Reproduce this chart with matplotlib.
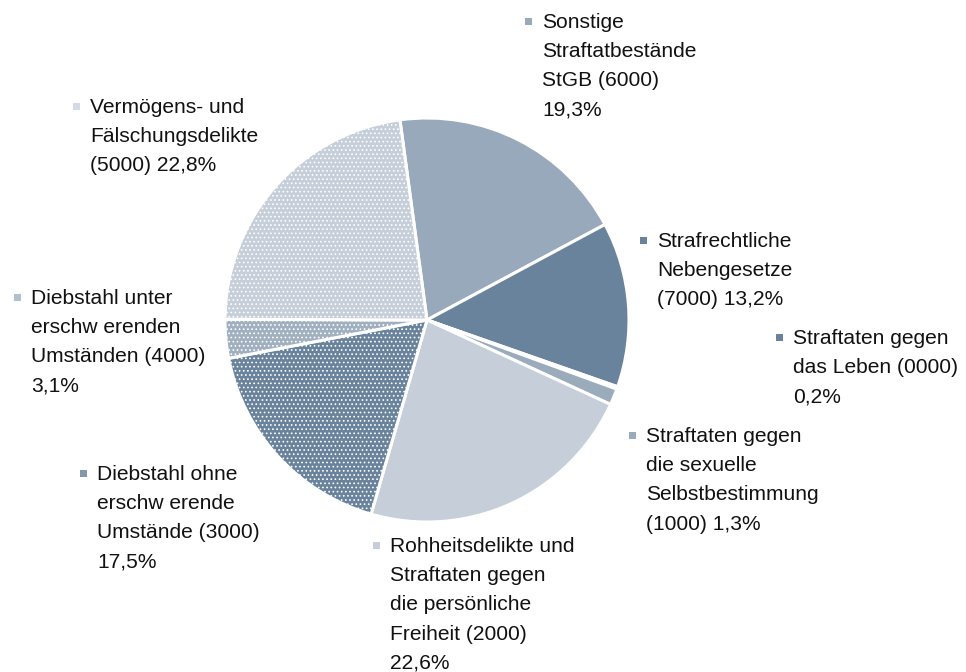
import matplotlib
matplotlib.use("Agg")
import matplotlib.pyplot as plt
from matplotlib.patches import Rectangle

plt.rcParams['font.family'] = ['Liberation Sans', 'DejaVu Sans']
plt.rcParams['hatch.linewidth'] = 0.7

labels = [
    "Sonstige\nStraftatbestände\nStGB (6000)\n19,3%",
    "Strafrechtliche\nNebengesetze\n(7000) 13,2%",
    "Straftaten gegen\ndas Leben (0000)\n0,2%",
    "Straftaten gegen\ndie sexuelle\nSelbstbestimmung\n(1000) 1,3%",
    "Rohheitsdelikte und\nStraftaten gegen\ndie persönliche\nFreiheit (2000)\n22,6%",
    "Diebstahl ohne\nerschw erende\nUmstände (3000)\n17,5%",
    "Diebstahl unter\nerschw erenden\nUmständen (4000)\n3,1%",
    "Vermögens- und\nFälschungsdelikte\n(5000) 22,8%",
]
shares = [19.3, 13.2, 0.2, 1.3, 22.6, 17.5, 3.1, 22.8]
colors = ["#98a9bb", "#6a839c", "#6a839c", "#9aabbc", "#c5ced9", "#6a839c", "#a0b0c0", "#c5ced9"]
marker_colors = ["#98a9bb", "#6a839c", "#6a839c", "#9aabbc", "#c5ced9", "#8598ab", "#b3bfcb", "#d3dae3"]
hatches = [None, None, None, None, None, "....", "....", "...."]

# marker center (x, y) in pixel coords from top-left
label_pos = [
    (528, 21), (643, 240), (779, 337), (632, 435),
    (376, 545), (83, 473), (17, 297), (76, 106),
]

W, H = 966, 672
fig = plt.figure(figsize=(W / 100, H / 100), dpi=100)
fig.patch.set_facecolor("white")

# pie axes: center (427, 320), radius ~202 px
cx, cy, r = 427, 320, 202
ax = fig.add_axes([(cx - r) / W, 1 - (cy + r) / H, 2 * r / W, 2 * r / H])
wedges, _ = ax.pie(shares, startangle=97.7, counterclock=False, colors=colors,
                   wedgeprops=dict(edgecolor="white", linewidth=2.2))
for w, h in zip(wedges, hatches):
    if h:
        w.set_hatch(h)
ax.set_aspect("equal")
ax.set_xlim(-1, 1)
ax.set_ylim(-1, 1)
ax.axis("off")

for lab, (mx, my), mc in zip(labels, label_pos, marker_colors):
    s = 7
    sq = Rectangle(((mx - s / 2) / W, 1 - (my + s / 2) / H), s / W, s / H,
                   transform=fig.transFigure, facecolor=mc, edgecolor="none")
    fig.patches.append(sq)
    fig.text((mx + 14) / W, 1 - (my - 8) / H, lab, fontsize=15.1, color="#111111",
             ha="left", va="top", linespacing=1.68)

fig.savefig("out.png", dpi=100, facecolor="white")
